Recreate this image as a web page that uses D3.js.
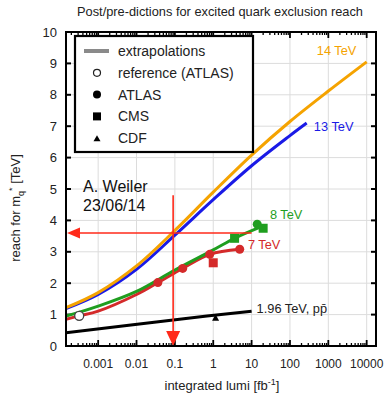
<!DOCTYPE html>
<html><head><meta charset="utf-8">
<script src="https://cdnjs.cloudflare.com/ajax/libs/d3/7.8.5/d3.min.js"></script>
<style>body{margin:0;background:#fff}svg{display:block;font-family:"Liberation Sans",Arial,sans-serif}</style>
</head><body><svg id="c" width="390" height="395"></svg>
<script>
// ---- data ----
const xTickValues = [0.001, 0.01, 0.1, 1, 10, 100, 1000, 10000];
const xTickLabels = ["0.001", "0.01", "0.1", "1", "10", "100", "1000", "10000"];
const yTickValues = [0,1,2,3,4,5,6,7,8,9,10];

const lumi14 = [1.45e-4, 0.001, 0.01, 0.1, 1, 10, 100, 1000, 10000];
const reach14 = [1.22, 1.7, 2.55, 3.68, 4.9, 6.08, 7.15, 8.12, 9.05];
const lumi13 = [1.45e-4, 0.001, 0.01, 0.1, 1, 10, 100, 273];
const reach13 = [1.19, 1.64, 2.44, 3.53, 4.66, 5.74, 6.7, 7.1];
const lumi8 = [1.45e-4, 0.001, 0.01, 0.1, 1, 3.6, 18];
const reach8 = [0.95, 1.27, 1.74, 2.42, 3.06, 3.43, 3.8];
const lumi7 = [1.45e-4, 3.2e-4, 0.001, 0.01, 0.036, 0.16, 0.81, 4.9];
const reach7 = [0.85, 0.96, 1.11, 1.64, 2.02, 2.47, 2.92, 3.08];
const lumi196 = [1.45e-4, 0.15, 10];
const reach196 = [0.42, 0.86, 1.11];

const refLumi = [3.2e-4], refReach = [0.96];
const atlas7Lumi = [0.036, 0.16, 0.81, 4.9], atlas7Reach = [2.02, 2.47, 2.92, 3.08];
const cms7Lumi = [1.0], cms7Reach = [2.65];
const atlas8Lumi = [14], atlas8Reach = [3.88];
const cms8Lumi = [3.6, 20], cms8Reach = [3.43, 3.75];
const cdfLumi = [1.15], cdfReach = [0.9];

const curveNames = ["14 TeV", "13 TeV", "8 TeV", "7 TeV", "1.96 TeV, p\u0070\u0304"];
const labelLumi = [500, 420, 30, 8, 13.5];
const labelReach = [9.4, 7.0, 4.2, 3.22, 1.21];

const crossLumi = 0.09, crossReach = 3.6, crossHEnd = 10, crossVTop = 4.8;

const legendLabels = ["extrapolations", "reference (ATLAS)", "ATLAS", "CMS", "CDF"];

// ---- layout ----
const svg = d3.select("#c");
const L = 66, R = 376, T = 32, B = 346;
const x = d3.scaleLog().domain([1.45e-4, 1.75e4]).range([L, R]);
const y = d3.scaleLinear().domain([0, 10]).range([B, T]);

// title
svg.append("text").attr("x", 220).attr("y", 16).attr("text-anchor", "middle")
  .attr("font-size", 12.8).attr("fill", "#222").text("Post/pre-dictions for excited quark exclusion reach");

// grid
const g = svg.append("g");
g.selectAll(".gx").data(xTickValues).join("line")
  .attr("x1", d => x(d)).attr("x2", d => x(d)).attr("y1", T).attr("y2", B)
  .attr("stroke", "#dcdcdc").attr("stroke-width", 1);
g.selectAll(".gy").data(yTickValues).join("line")
  .attr("x1", L).attr("x2", R).attr("y1", d => y(d)).attr("y2", d => y(d))
  .attr("stroke", "#dcdcdc").attr("stroke-width", 1);

// minor ticks
const minor = [];
for (let e = -4; e <= 4; e++) for (let m = 2; m <= 9; m++) { const v = m * Math.pow(10, e); if (v > 1.45e-4 && v < 1.75e4) minor.push(v); }
const tk = svg.append("g").attr("stroke", "#000");
tk.selectAll(".mb").data(minor).join("line").attr("x1", d => x(d)).attr("x2", d => x(d)).attr("y1", B).attr("y2", B - 3).attr("stroke-width", 1.3);
tk.selectAll(".mt").data(minor).join("line").attr("x1", d => x(d)).attr("x2", d => x(d)).attr("y1", T).attr("y2", T + 3).attr("stroke-width", 1.3);
tk.selectAll(".Mb").data(xTickValues).join("line").attr("x1", d => x(d)).attr("x2", d => x(d)).attr("y1", B).attr("y2", B - 6).attr("stroke-width", 1.8);
tk.selectAll(".Mt").data(xTickValues).join("line").attr("x1", d => x(d)).attr("x2", d => x(d)).attr("y1", T).attr("y2", T + 6).attr("stroke-width", 1.8);
tk.selectAll(".yl").data(yTickValues).join("line").attr("x1", L).attr("x2", L + 5).attr("y1", d => y(d)).attr("y2", d => y(d)).attr("stroke-width", 2);
tk.selectAll(".yr").data(yTickValues).join("line").attr("x1", R).attr("x2", R - 5).attr("y1", d => y(d)).attr("y2", d => y(d)).attr("stroke-width", 2);

// tick labels
svg.append("g").selectAll("text").data(xTickValues).join("text")
  .attr("x", d => x(d)).attr("y", B + 22).attr("text-anchor", "middle").attr("font-size", 12).attr("fill", "#222")
  .text((d, i) => xTickLabels[i]);
svg.append("g").selectAll("text").data(yTickValues).join("text")
  .attr("x", L - 9).attr("y", d => y(d) + 4.5).attr("text-anchor", "end").attr("font-size", 13).attr("fill", "#222")
  .text(d => d);

// axis titles
const xt = svg.append("text").attr("x", 222).attr("y", 390).attr("text-anchor", "middle").attr("font-size", 13).attr("fill", "#222");
xt.append("tspan").text("integrated lumi [fb");
xt.append("tspan").attr("dy", -5).attr("font-size", 9).text("-1");
xt.append("tspan").attr("dy", 5).text("]");
const yt = svg.append("text").attr("transform", "translate(20,208) rotate(-90)").attr("text-anchor", "middle").attr("font-size", 13).attr("fill", "#222");
yt.append("tspan").text("reach for m");
yt.append("tspan").attr("dy", 4).attr("font-size", 9).text("q");
yt.append("tspan").attr("dy", -9).attr("font-size", 9).text("*");
yt.append("tspan").attr("dy", 5).text(" [TeV]");

// clip
svg.append("clipPath").attr("id", "pc").append("rect").attr("x", L).attr("y", T).attr("width", R - L).attr("height", B - T);
const plot = svg.append("g").attr("clip-path", "url(#pc)");

// annotation text
svg.append("text").attr("x", 83).attr("y", 192).attr("font-size", 16).attr("fill", "#111").text("A. Weiler");
svg.append("text").attr("x", 83).attr("y", 211).attr("font-size", 16).attr("fill", "#111").text("23/06/14");

// curves
const line = d3.line().x(d => x(d[0])).y(d => y(d[1])).curve(d3.curveCatmullRom.alpha(0.5));
const series = [
  [lumi196, reach196, "#000"],
  [lumi7, reach7, "#d42a2a"],
  [lumi8, reach8, "#1f9e1f"],
  [lumi13, reach13, "#1a1ae6"],
  [lumi14, reach14, "#f5a300"]
];
series.forEach(s => {
  plot.append("path").datum(s[0].map((v, i) => [v, s[1][i]]))
    .attr("d", line).attr("fill", "none").attr("stroke", s[2]).attr("stroke-width", 3);
});

// markers
function circles(lx, ly, col) {
  plot.append("g").selectAll("circle").data(lx).join("circle")
    .attr("cx", d => x(d)).attr("cy", (d, i) => y(ly[i])).attr("r", 4.5).attr("fill", col);
}
function squares(lx, ly, col) {
  plot.append("g").selectAll("rect").data(lx).join("rect")
    .attr("x", d => x(d) - 4.5).attr("y", (d, i) => y(ly[i]) - 4.5).attr("width", 9).attr("height", 9).attr("fill", col);
}
circles(atlas7Lumi, atlas7Reach, "#d42a2a");
squares(cms7Lumi, cms7Reach, "#d42a2a");
circles(atlas8Lumi, atlas8Reach, "#1f9e1f");
squares(cms8Lumi, cms8Reach, "#1f9e1f");
plot.append("g").selectAll("path").data(cdfLumi).join("path")
  .attr("d", (d, i) => { const cx = x(d), cy = y(cdfReach[i]); return `M${cx - 3.5},${cy + 3}L${cx + 3.5},${cy + 3}L${cx},${cy - 3.5}Z`; })
  .attr("fill", "#000");
plot.append("g").selectAll("circle").data(refLumi).join("circle")
  .attr("cx", d => x(d)).attr("cy", (d, i) => y(refReach[i])).attr("r", 4.5).attr("fill", "#fff").attr("stroke", "#444").attr("stroke-width", 1.3);

// curve labels
const lcol = ["#f5a300", "#1a1ae6", "#1f9e1f", "#d42a2a", "#222"];
curveNames.forEach((n, i) => {
  svg.append("text").attr("x", x(labelLumi[i])).attr("y", y(labelReach[i]) + 4.5)
    .attr("font-size", 12.8).attr("fill", lcol[i]).text(n);
});

// red crosshair
const red = "#ff2a1a";
svg.append("line").attr("x1", x(1.45e-4) + 12).attr("x2", x(crossHEnd)).attr("y1", y(crossReach)).attr("y2", y(crossReach))
  .attr("stroke", red).attr("stroke-width", 1.6);
svg.append("path").attr("d", `M${x(1.45e-4) + 1},${y(crossReach)}L${x(1.45e-4) + 14},${y(crossReach) - 5.5}L${x(1.45e-4) + 14},${y(crossReach) + 5.5}Z`).attr("fill", red);
svg.append("line").attr("x1", x(crossLumi)).attr("x2", x(crossLumi)).attr("y1", y(crossVTop)).attr("y2", y(0) - 10)
  .attr("stroke", red).attr("stroke-width", 1.6);
svg.append("path").attr("d", `M${x(crossLumi)},${y(0)}L${x(crossLumi) - 7},${y(0) - 15}L${x(crossLumi) + 7},${y(0) - 15}Z`).attr("fill", red);

// frame
svg.append("rect").attr("x", L).attr("y", T).attr("width", R - L).attr("height", B - T)
  .attr("fill", "none").attr("stroke", "#000").attr("stroke-width", 2);

// legend
const lg = svg.append("g");
lg.append("rect").attr("x", 75).attr("y", 36).attr("width", 178).attr("height", 116)
  .attr("fill", "#fff").attr("stroke", "#000").attr("stroke-width", 2.2);
const ly0 = 51, ldy = 21.8;
legendLabels.forEach((t, i) => {
  lg.append("text").attr("x", 118).attr("y", ly0 + i * ldy + 5).attr("font-size", 14).attr("fill", "#222").text(t);
});
lg.append("line").attr("x1", 84).attr("x2", 109).attr("y1", ly0).attr("y2", ly0).attr("stroke", "#8a8a8a").attr("stroke-width", 4);
lg.append("circle").attr("cx", 97).attr("cy", ly0 + ldy).attr("r", 3.5).attr("fill", "#fff").attr("stroke", "#222").attr("stroke-width", 1.2);
lg.append("circle").attr("cx", 97).attr("cy", ly0 + 2 * ldy).attr("r", 4).attr("fill", "#000");
lg.append("rect").attr("x", 93).attr("y", ly0 + 3 * ldy - 4).attr("width", 8).attr("height", 8).attr("fill", "#000");
lg.append("path").attr("d", `M${93.5},${ly0 + 4 * ldy + 3}L${100.5},${ly0 + 4 * ldy + 3}L97,${ly0 + 4 * ldy - 3}Z`).attr("fill", "#000");
</script></body></html>
